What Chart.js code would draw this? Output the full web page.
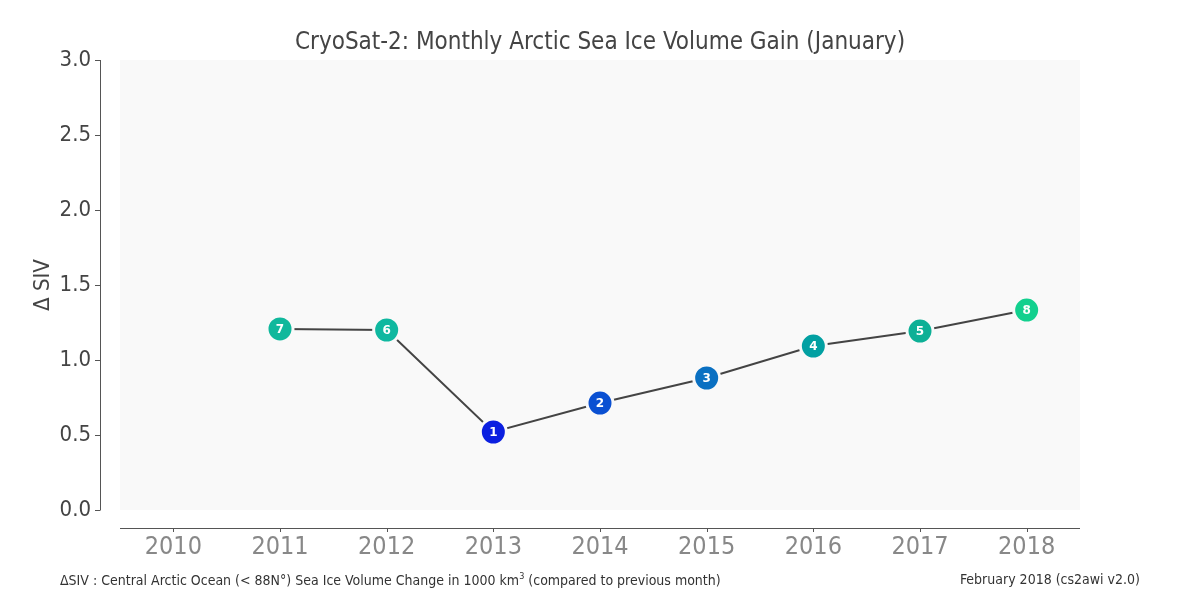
<!DOCTYPE html>
<html>
<head>
<meta charset="utf-8">
<script src="https://cdn.jsdelivr.net/npm/chart.js@4/dist/chart.umd.min.js"></script>
<style>
  html, body { margin: 0; padding: 0; background: #fff; }
  #wrap { position: relative; width: 1200px; height: 600px; }
  .foot { position: absolute; top: 571px; font-family: "DejaVu Sans Condensed", "DejaVu Sans", sans-serif; font-size: 14px; color: #333; white-space: nowrap; }
  #footLeft { left: 60px; }
  #footRight { right: 60px; }
</style>
</head>
<body>
<div id="wrap">
  <canvas id="myChart" width="1200" height="600"></canvas>
  <div class="foot" id="footLeft">ΔSIV : Central Arctic Ocean (&lt; 88N°) Sea Ice Volume Change in 1000 km<sup style="font-size:9px">3</sup> (compared to previous month)</div>
  <div class="foot" id="footRight">February 2018 (cs2awi v2.0)</div>
</div>
<script>
// data
var years = [2011, 2012, 2013, 2014, 2015, 2016, 2017, 2018];
var gain = [1.207, 1.200, 0.520, 0.713, 0.880, 1.093, 1.193, 1.333];
var ranks = [7, 6, 1, 2, 3, 4, 5, 8];
var rankColors = ['#0b1fe0', '#0a50d2', '#0a70c2', '#02a0a2', '#0db096', '#0fb8a0', '#10b89c', '#12d08e'];
var yearTicks = [2010, 2011, 2012, 2013, 2014, 2015, 2016, 2017, 2018];

var FONT = '"DejaVu Sans Condensed", "DejaVu Sans", sans-serif';

var points = years.map(function(y, i){ return {x: y, y: gain[i]}; });
var pointColors = ranks.map(function(r){ return rankColors[r - 1]; });


// plot background + offset spines (matplotlib style)
var spinePlugin = {
    id: 'spines',
    beforeDraw: function(chart){
        var c = chart.ctx, a = chart.chartArea;
        c.save();
        c.fillStyle = '#f9f9f9';
        c.fillRect(a.left, a.top, a.right - a.left, a.bottom - a.top);
        c.restore();
    },
    afterDraw: function(chart){
        var c = chart.ctx, a = chart.chartArea;
        var xs = chart.scales.x, ys = chart.scales.y;
        c.save();
        c.strokeStyle = '#555';
        c.lineWidth = 1;
        var yx = a.left - 20;
        c.beginPath();
        c.moveTo(yx + 0.5, ys.getPixelForValue(3));
        c.lineTo(yx + 0.5, ys.getPixelForValue(0));
        ys.ticks.forEach(function(t){
            var py = Math.round(ys.getPixelForValue(t.value)) + 0.5;
            c.moveTo(yx - 5, py);
            c.lineTo(yx + 0.5, py);
        });
        var xy = a.bottom + 18;
        c.moveTo(a.left, xy + 0.5);
        c.lineTo(a.right, xy + 0.5);
        xs.ticks.forEach(function(t){
            var px = Math.round(xs.getPixelForValue(t.value)) + 0.5;
            c.moveTo(px, xy);
            c.lineTo(px, xy + 4);
        });
        c.stroke();
        c.restore();
    }
};

// rank number inside each dot
var rankPlugin = {
    id: 'ranks',
    afterDatasetsDraw: function(chart){
        var c = chart.ctx;
        var meta = chart.getDatasetMeta(0);
        c.save();
        c.fillStyle = '#fff';
        c.font = 'bold 12px "DejaVu Sans", sans-serif';
        c.textAlign = 'center';
        c.textBaseline = 'middle';
        meta.data.forEach(function(p, i){
            c.fillText(String(ranks[i]), p.x, p.y + 0.5);
        });
        c.restore();
    }
};

var canvas = document.getElementById('myChart').getContext('2d');
var myChart = new Chart(canvas, {
    type: 'line',
    data: {
        datasets: [{
            label: 'Sea ice volume gain',
            data: points,
            borderColor: '#444',
            borderWidth: 2,
            tension: 0,
            pointRadius: 13,
            pointBackgroundColor: pointColors,
            pointBorderColor: '#f9f9f9',
            pointBorderWidth: 3,
        }]
    },
    options: {
        responsive: false,
        animation: false,
        layout: { padding: 0 },
        plugins: {
            legend: { display: false },
            tooltip: { enabled: false },
            title: {
                display: true,
                text: 'CryoSat-2: Monthly Arctic Sea Ice Volume Gain (January)',
                color: '#444',
                font: { family: FONT, size: 24, weight: 'normal', lineHeight: 1.2 },
                padding: { top: 28, bottom: 3.2 }
            }
        },
        scales: {
            x: {
                type: 'linear',
                min: 2009.5,
                max: 2018.5,
                afterBuildTicks: function(scale){
                    scale.ticks = yearTicks.map(function(v){ return {value: v}; });
                },
                afterFit: function(scale){ scale.height = 90; },
                grid: { display: false, drawTicks: false },
                border: { display: false },
                ticks: {
                    color: '#888',
                    padding: 22,
                    font: { family: FONT, size: 25 },
                    callback: function(v){ return String(v); }
                }
            },
            y: {
                min: 0,
                max: 3,
                afterFit: function(scale){ scale.width = 120; },
                grid: { display: false, drawTicks: false },
                border: { display: false },
                ticks: {
                    stepSize: 0.5,
                    color: '#444',
                    padding: 29,
                    font: { family: FONT, size: 22 },
                    callback: function(v){ return v.toFixed(1); }
                },
                title: {
                    display: true,
                    text: 'Δ SIV',
                    color: '#444',
                    padding: { top: 30, bottom: 0 },
                    font: { family: FONT, size: 22, lineHeight: 1.2 }
                }
            },
            // empty right-hand strip so the title stays centred on the page
            yRight: {
                position: 'right',
                min: 0,
                max: 3,
                afterFit: function(scale){ scale.width = 120; },
                grid: { display: false, drawTicks: false },
                border: { display: false },
                ticks: { display: false }
            }
        }
    },
    plugins: [spinePlugin, rankPlugin]
});
</script>
</body>
</html>
